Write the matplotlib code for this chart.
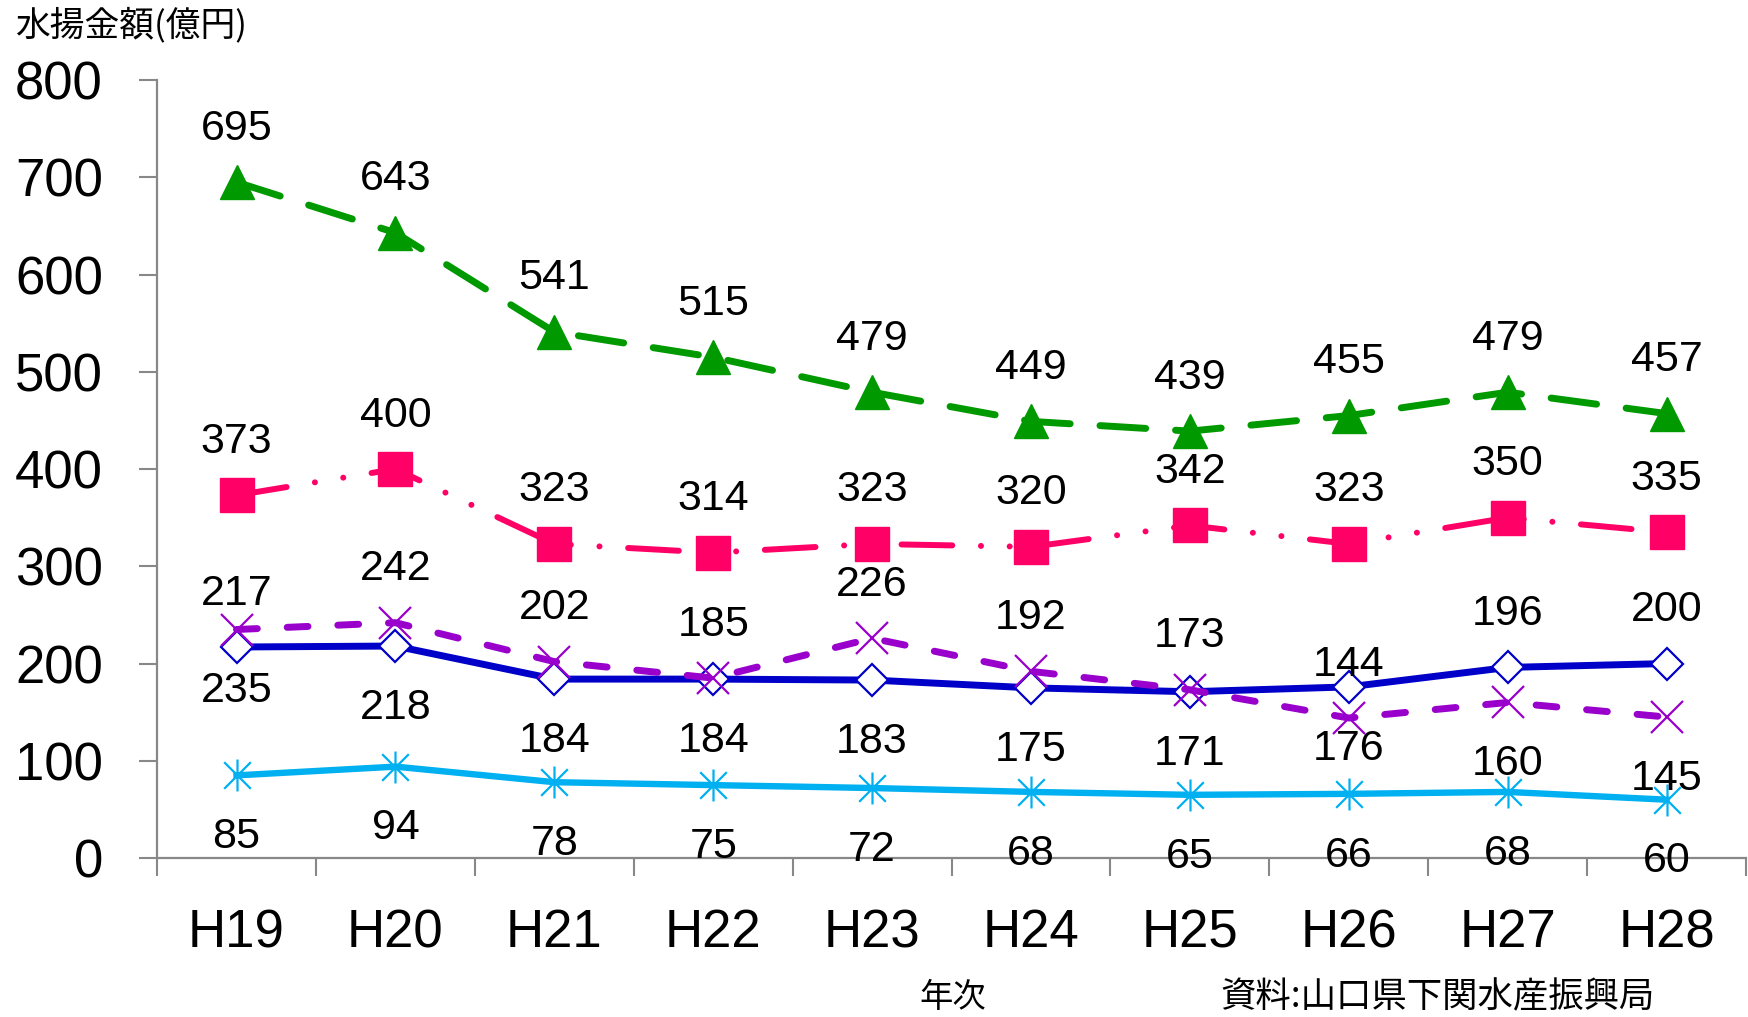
import numpy as np
import matplotlib
matplotlib.use("Agg")
import matplotlib.pyplot as plt
from matplotlib.path import Path

years = ["H19", "H20", "H21", "H22", "H23", "H24", "H25", "H26", "H27", "H28"]
green = [695, 643, 541, 515, 479, 449, 439, 455, 479, 457]
pink = [373, 400, 323, 314, 323, 320, 342, 323, 350, 335]
blue = [217, 218, 184, 184, 183, 175, 171, 176, 196, 200]
purple = [235, 242, 202, 185, 226, 192, 173, 144, 160, 145]
cyan = [85, 94, 78, 75, 72, 68, 65, 66, 68, 60]
# which side the value label sits on (1 = above, -1 = below)
blue_side = [1, -1, -1, -1, -1, -1, -1, -1, 1, 1]
purple_side = [-1, 1, 1, 1, 1, 1, 1, 1, -1, -1]

jp = ["Noto Sans CJK JP", "DejaVu Sans"]
num = ["Liberation Sans Narrow", "Liberation Sans", "DejaVu Sans"]

fig = plt.figure(figsize=(17.49, 10.17), dpi=100)
ax = fig.add_axes([0.0898, 0.1563, 0.9085, 0.765])
x = np.arange(len(years))

star = Path([(-1, -1), (1, 1), (-1, 1), (1, -1), (0, -1.2), (0, 1.2)],
            [Path.MOVETO, Path.LINETO, Path.MOVETO, Path.LINETO, Path.MOVETO, Path.LINETO])

ax.plot(x, cyan, color="#00B0F0", lw=4.6, marker=star, ms=23, mfc="none",
        mec="#00B0F0", mew=1.6, solid_joinstyle="round", zorder=3)
ax.plot(x, blue, color="#0000C8", lw=5, marker="D", ms=16, mfc="white",
        mec="#0000C8", mew=1.6, solid_joinstyle="round", zorder=3)
ax.plot(x, purple, color="#9900CC", lw=5, dashes=(3, 4.3), dash_capstyle="round",
        marker="x", ms=23, mec="#9900CC", mew=1.6, zorder=4)
ax.plot(x, pink, color="#FF0066", lw=4.3, dashes=(8.5, 4.8, 0.01, 4.8, 0.01, 4.8),
        dash_capstyle="round", marker="s", ms=25, mfc="#FF0066", mec="#FF0066", zorder=4)
ax.plot(x, green, color="#009900", lw=5, dashes=(6.6, 4.3), dash_capstyle="round",
        marker="^", ms=24.5, mfc="#009900", mec="#009900", zorder=4)

up = 38.5
down = -44.5
for i in range(len(years)):
    ax.annotate(str(green[i]), (x[i], green[i]), xytext=(0, up), textcoords="offset points",
                ha="center", va="center", fontsize=31, family=num, zorder=6)
    ax.annotate(str(pink[i]), (x[i], pink[i]), xytext=(0, up), textcoords="offset points",
                ha="center", va="center", fontsize=31, family=num, zorder=6)
    ax.annotate(str(blue[i]), (x[i], blue[i]), xytext=(0, up if blue_side[i] > 0 else down),
                textcoords="offset points", ha="center", va="center", fontsize=31, family=num, zorder=6)
    ax.annotate(str(purple[i]), (x[i], purple[i]), xytext=(0, up if purple_side[i] > 0 else down),
                textcoords="offset points", ha="center", va="center", fontsize=31, family=num, zorder=6)
    ax.annotate(str(cyan[i]), (x[i], cyan[i]), xytext=(0, down), textcoords="offset points",
                ha="center", va="center", fontsize=31, family=num, zorder=6)

ax.set_xlim(-0.5, len(years) - 0.5)
ax.set_ylim(0, 800)
ax.set_yticks(range(0, 801, 100))
ax.set_yticklabels([str(v) for v in range(0, 801, 100)], fontsize=38, family=["Liberation Sans", "DejaVu Sans"])
ax.tick_params(axis="y", direction="out", length=13, width=1.5, color="#888888", pad=26)

ax.set_xticks(np.arange(-0.5, len(years)), minor=False)
ax.set_xticklabels([])
ax.set_xticks(x, minor=True)
ax.set_xticklabels(years, minor=True, fontsize=38, family=num)
ax.tick_params(axis="x", which="major", direction="out", length=13, width=1.5, color="#888888")
ax.tick_params(axis="x", which="minor", length=0, pad=36)

for s in ["top", "right"]:
    ax.spines[s].set_visible(False)
for s in ["left", "bottom"]:
    ax.spines[s].set_color("#888888")
    ax.spines[s].set_linewidth(1.6)

fig.text(0.0085, 0.975, "水揚金額(億円)", fontsize=25, family=jp, ha="left", va="center")
fig.text(0.545, 0.019, "年次", fontsize=24, family=jp, ha="center", va="center")
fig.text(0.6975, 0.019, "資料:山口県下関水産振興局", fontsize=25.5, family=jp, ha="left", va="center")

fig.savefig("out.png", dpi=100)
